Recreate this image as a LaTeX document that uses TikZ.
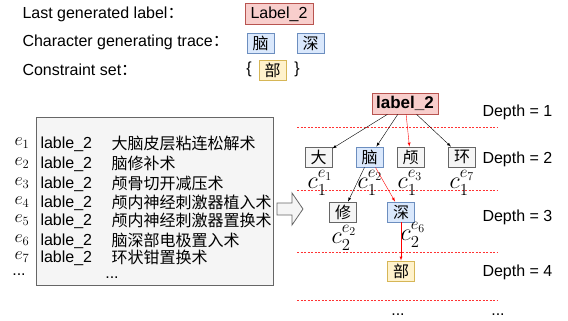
\documentclass[tikz,border=0pt]{standalone}
\usepackage{fix-cm}
\usepackage[no-math]{fontspec}
\usepackage{amsmath}
\setmainfont{Liberation Sans}
\newfontfamily\cjk{Noto Sans CJK SC}
\usetikzlibrary{positioning}

\definecolor{redfill}{HTML}{F8CECC}
\definecolor{redline}{HTML}{B85450}
\definecolor{bluefill}{HTML}{DAE8FC}
\definecolor{blueline}{HTML}{6C8EBF}
\definecolor{yellowfill}{HTML}{FFF2CC}
\definecolor{yellowline}{HTML}{D6B656}
\definecolor{grayfill}{HTML}{F5F5F5}
\definecolor{grayline}{HTML}{666666}
\definecolor{sepred}{HTML}{FF3333}

\begin{document}
\begin{tikzpicture}[x=1pt, y=-1pt, >=latex,
    every node/.style={font=\fontsize{16}{18}\selectfont},
    charbox/.style={draw, line width=0.8pt, minimum width=27pt, minimum height=20pt, inner sep=0pt, font=\fontsize{16}{18}\selectfont\cjk},
    graybox/.style={charbox, draw=grayline, fill=grayfill},
    bluebox/.style={charbox, draw=blueline, fill=bluefill},
    yellowbox/.style={charbox, draw=yellowline, fill=yellowfill},
    redbox/.style={draw=redline, line width=0.8pt, fill=redfill, minimum width=68pt, minimum height=21pt, inner sep=0pt},
    elab/.style={inner sep=0pt, font=\fontsize{18}{20}\selectfont},
    clab/.style={inner sep=0pt, font=\fontsize{24}{26}\selectfont},
    levelline/.style={sepred, line width=0.9pt, dash pattern=on 2pt off 1.5pt}]
    \useasboundingbox (0,0) rectangle (568,321);

    % Legend at the top
    \node[anchor=west] (lastlab) at (19,14) {Last generated label{\cjk ：}};
    \node[redbox] (toplabel) at (279,14) {Label\_2};
    \node[anchor=west] (tracelab) at (19,42) {Character generating trace{\cjk ：}};
    \node[bluebox] (trace1) at (260.5,43) {脑};
    \node[bluebox] (trace2) at (310.5,43) {深};
    \node[anchor=west] (conslab) at (19,70) {Constraint set{\cjk ：}};
    \node (lbrace) at (249,69) {\{};
    \node[yellowbox] (cons1) at (272.5,70) {部};
    \node (rbrace) at (297,69) {\}};

    % Candidate entries
    \draw[draw=grayline, line width=0.8pt, fill=grayfill] (36,117) rectangle (273,285);
    \foreach \i/\y/\name in {1/143/大脑皮层粘连松解术, 2/163/脑修补术, 3/183/颅骨切开减压术,
        4/202/颅内神经刺激器植入术, 5/220/颅内神经刺激器置换术, 6/240/脑深部电极置入术, 7/257/环状钳置换术} {
        \node[elab] (e\i) at (22,\y) {$e_{\i}$};
        \node[anchor=west] (lab\i) at (37,\y+1) {lable\_2};
        \node[anchor=west, font=\fontsize{16}{18}\selectfont\cjk] (name\i) at (108,\y) {\name};
    }
    \node (edots) at (19,275) {...};
    \node (namedots) at (112,278) {...};

    % Block arrow
    \draw[draw=grayline, line width=0.8pt, fill=grayfill] (277,203) -- (292,203) -- (292,193) -- (303,209)
        -- (292,225) -- (292,215) -- (277,215) -- cycle;

    % Depth separators
    \foreach \y in {127,190,252,300}
        \draw[levelline] (297,\y) -- (497,\y);

    % Tree nodes
    \node[redbox, minimum width=66pt, font=\fontsize{17}{19}\selectfont\bfseries] (root) at (405,103.5) {label\_2};
    \node[graybox] (da) at (318.5,157) {大};
    \node[bluebox] (nao) at (369.5,157) {脑};
    \node[graybox] (lu) at (410.5,157) {颅};
    \node[graybox] (huan) at (462,157) {环};
    \node[graybox] (xiu) at (343,212) {修};
    \node[bluebox] (shen) at (401,212) {深};
    \node[yellowbox] (bu) at (401,271) {部};

    % Tree labels
    \node[clab] (c11) at (320,183) {$c_1^{e_1}$};
    \node[clab] (c12) at (370,183) {$c_1^{e_2}$};
    \node[clab] (c13) at (410,183) {$c_1^{e_3}$};
    \node[clab] (c17) at (462,183) {$c_1^{e_7}$};
    \node[clab] (c22) at (344,238) {$c_2^{e_2}$};
    \node[clab] (c26) at (413,235) {$c_2^{e_6}$};

    % Edges
    \draw[->] (root) -- (da);
    \draw[->] (root) -- (nao);
    \draw[->, red] (root) -- (lu);
    \draw[->] (root) -- (huan);
    \draw[->] (nao) -- (xiu);
    \draw[->, red] (nao) -- (shen);
    \draw[->, red] (shen) -- (bu);

    % Depth labels
    \node[anchor=west] (depth1) at (479,112) {Depth = 1};
    \node[anchor=west] (depth2) at (479,159) {Depth = 2};
    \node[anchor=west] (depth3) at (479,217) {Depth = 3};
    \node[anchor=west] (depth4) at (479,272) {Depth = 4};
    \node (dots1) at (398,315) {...};
    \node (dots2) at (498,315) {...};
\end{tikzpicture}
\end{document}
